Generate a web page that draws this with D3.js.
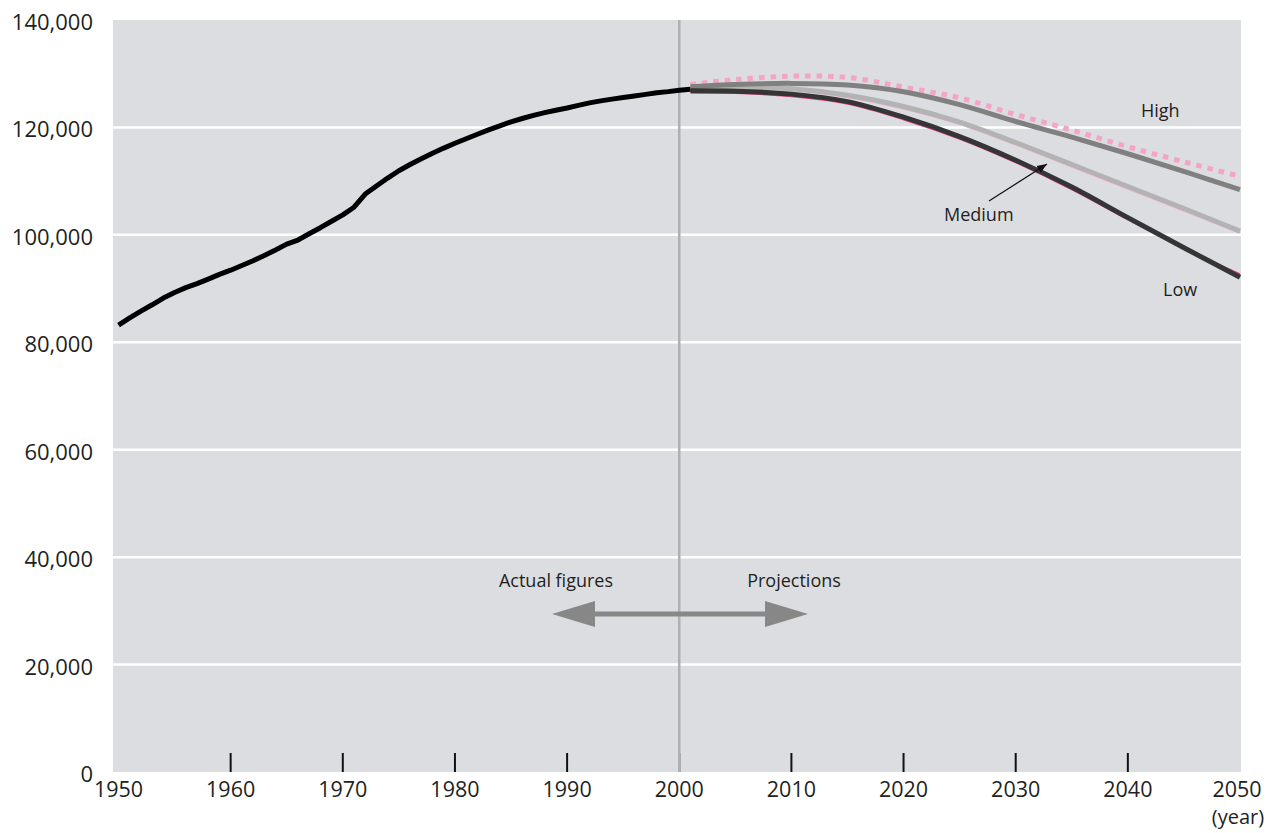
<!DOCTYPE html>
<html>
<head>
<meta charset="utf-8">
<script src="https://cdn.jsdelivr.net/npm/d3@7"></script>
<style>
  html, body { margin: 0; padding: 0; background: #fff; }
  svg { display: block; }
  text { font-family: "Open Sans", "DejaVu Sans", sans-serif; fill: #231f20; }
</style>
</head>
<body>
<svg id="chart" width="1280" height="833"></svg>
<script>
// ---------- DATA ----------
const histYears = d3.range(1950, 2002);
const histValues = [
  83200, 84541, 85808, 86981, 88239, 89276, 90172, 90928, 91767, 92641,
  93419, 94287, 95181, 96156, 97182, 98275, 99036, 100196, 101331, 102536,
  103720, 105145, 107595, 109104, 110573, 111940, 113094, 114165, 115190, 116155,
  117060, 117902, 118728, 119536, 120305, 121049, 121660, 122239, 122745, 123205,
  123611, 124101, 124567, 124938, 125265, 125570, 125859, 126157, 126472, 126667,
  126926, 127100
];

const projYears = [2001, 2005, 2010, 2015, 2020, 2025, 2030, 2035, 2040, 2045, 2050];
const highValues   = [127590, 128000, 128200, 127900, 126650, 124250, 121100, 118200, 115100, 111800, 108400];
const mediumValues = [127150, 127500, 127200, 126000, 123900, 121000, 117200, 113100, 109000, 104900, 100700];
const lowValues    = [126840, 126750, 126200, 124800, 121900, 118300, 113900, 108900, 103200, 97600, 92100];
const prevHighValues   = [128000, 128900, 129550, 129300, 127500, 125500, 122400, 119500, 116400, 113600, 110900];
const prevMediumValues = [126950, 127250, 126900, 125600, 123450, 120600, 116750, 112650, 108550, 104450, 100350];
const prevLowValues    = [126450, 126350, 125750, 124350, 121450, 117850, 113450, 108450, 102850, 97500, 92700];

const yTicks = [0, 20000, 40000, 60000, 80000, 100000, 120000, 140000];
const xTicks = [1950, 1960, 1970, 1980, 1990, 2000, 2010, 2020, 2030, 2040, 2050];
const seriesLabels = ["High", "Medium", "Low"];
const arrowLabels = ["Actual figures", "Projections"];
const dividerYear = 2000;

// ---------- LAYOUT ----------
const svg = d3.select("#chart");
const plot = { left: 113, right: 1241, top: 20, bottom: 772 };
const x = d3.scaleLinear().domain([1950, 2050]).range([118.5, 1240]);
const y = d3.scaleLinear().domain([0, 140000]).range([plot.bottom, plot.top]);

// background
svg.append("rect")
  .attr("x", plot.left).attr("y", plot.top)
  .attr("width", plot.right - plot.left).attr("height", plot.bottom - plot.top)
  .attr("fill", "#dcdde0");

// gridlines
svg.append("g").selectAll("line")
  .data(yTicks.filter(v => v > 0 && v < 140000))
  .join("line")
  .attr("x1", plot.left).attr("x2", plot.right)
  .attr("y1", d => y(d)).attr("y2", d => y(d))
  .attr("stroke", "#ffffff").attr("stroke-width", 2.5);

// y axis labels
const fmt = d3.format(",");
svg.append("g").selectAll("text")
  .data(yTicks)
  .join("text")
  .attr("x", 93)
  .attr("y", d => y(d) + 1)
  .attr("text-anchor", "end")
  .attr("dominant-baseline", "central")
  .attr("font-size", 22)
  .text(d => fmt(d));

// x ticks (inner, at the bottom)
svg.append("g").selectAll("line")
  .data(xTicks.filter(v => v > 1950 && v < 2050))
  .join("line")
  .attr("x1", d => x(d)).attr("x2", d => x(d))
  .attr("y1", plot.bottom - 19).attr("y2", plot.bottom)
  .attr("stroke", "#111").attr("stroke-width", 2);

// x labels
svg.append("g").selectAll("text")
  .data(xTicks)
  .join("text")
  .attr("x", d => x(d) - (d === 2050 ? 3 : 0))
  .attr("y", 797)
  .attr("text-anchor", "middle")
  .attr("font-size", 21.5)
  .text(d => d);

svg.append("text")
  .attr("x", 1238).attr("y", 824)
  .attr("text-anchor", "middle")
  .attr("font-size", 20)
  .text("(year)");

// divider at 2000
svg.append("line")
  .attr("x1", x(dividerYear)).attr("x2", x(dividerYear))
  .attr("y1", plot.top).attr("y2", plot.bottom)
  .attr("stroke", "#b0b0b2").attr("stroke-width", 2.5);

// ---------- LINES ----------
const line = d3.line()
  .x(d => x(d[0])).y(d => y(d[1]))
  .curve(d3.curveCatmullRom.alpha(0.5));
const zipP = vals => projYears.map((yr, i) => [yr, vals[i]]);

// previous projections (pink)
svg.append("path").datum(zipP(prevHighValues))
  .attr("d", line).attr("fill", "none")
  .attr("stroke", "#f5a3c6").attr("stroke-width", 5)
  .attr("stroke-dasharray", "5.5,6");
svg.append("path").datum(zipP(prevMediumValues))
  .attr("d", line).attr("fill", "none")
  .attr("stroke", "#f6b2ce").attr("stroke-width", 1.6);
svg.append("path").datum(zipP(prevLowValues))
  .attr("d", line).attr("fill", "none")
  .attr("stroke", "#ea4590").attr("stroke-width", 1.6);

// current projections
svg.append("path").datum(zipP(mediumValues))
  .attr("d", line).attr("fill", "none")
  .attr("stroke", "#b3b3b4").attr("stroke-width", 5);
svg.append("path").datum(zipP(highValues))
  .attr("d", line).attr("fill", "none")
  .attr("stroke", "#808081").attr("stroke-width", 5);
svg.append("path").datum(zipP(lowValues))
  .attr("d", line).attr("fill", "none")
  .attr("stroke", "#353535").attr("stroke-width", 5);

// actual figures
const histLine = d3.line().x(d => x(d[0])).y(d => y(d[1])).curve(d3.curveLinear);
svg.append("path").datum(histYears.map((yr, i) => [yr, histValues[i]]))
  .attr("d", histLine).attr("fill", "none")
  .attr("stroke", "#000").attr("stroke-width", 5)
  .attr("stroke-linejoin", "round");

// ---------- ANNOTATIONS ----------
svg.append("text").attr("x", 1141).attr("y", 117).attr("font-size", 18).text(seriesLabels[0]);
svg.append("text").attr("x", 944).attr("y", 221).attr("font-size", 18).text(seriesLabels[1]);
svg.append("text").attr("x", 1163).attr("y", 296).attr("font-size", 18).text(seriesLabels[2]);

// pointer from "Medium"
const defs = svg.append("defs");
defs.append("marker")
  .attr("id", "ptr").attr("viewBox", "0 0 10 10")
  .attr("refX", 10).attr("refY", 5)
  .attr("markerWidth", 10).attr("markerHeight", 10)
  .attr("markerUnits", "userSpaceOnUse")
  .attr("orient", "auto")
  .append("path").attr("d", "M0,1 L10,5 L0,9 Z").attr("fill", "#111");
svg.append("line")
  .attr("x1", 989).attr("y1", 201).attr("x2", 1047).attr("y2", 164)
  .attr("stroke", "#111").attr("stroke-width", 1.2)
  .attr("marker-end", "url(#ptr)");

// double arrow
const arrowY = 614;
const ax1 = 552, ax2 = 808, head = 43, halfH = 13;
svg.append("rect")
  .attr("x", ax1 + head - 1).attr("y", arrowY - 2.5)
  .attr("width", ax2 - ax1 - 2 * head + 2).attr("height", 5)
  .attr("fill", "#878788");
svg.append("path")
  .attr("d", `M${ax1},${arrowY} L${ax1 + head},${arrowY - halfH} L${ax1 + head},${arrowY + halfH} Z`)
  .attr("fill", "#878788");
svg.append("path")
  .attr("d", `M${ax2},${arrowY} L${ax2 - head},${arrowY - halfH} L${ax2 - head},${arrowY + halfH} Z`)
  .attr("fill", "#878788");

svg.append("text").attr("x", 556).attr("y", 587).attr("text-anchor", "middle")
  .attr("font-size", 18).text(arrowLabels[0]);
svg.append("text").attr("x", 794).attr("y", 587).attr("text-anchor", "middle")
  .attr("font-size", 18).text(arrowLabels[1]);
</script>
</body>
</html>
